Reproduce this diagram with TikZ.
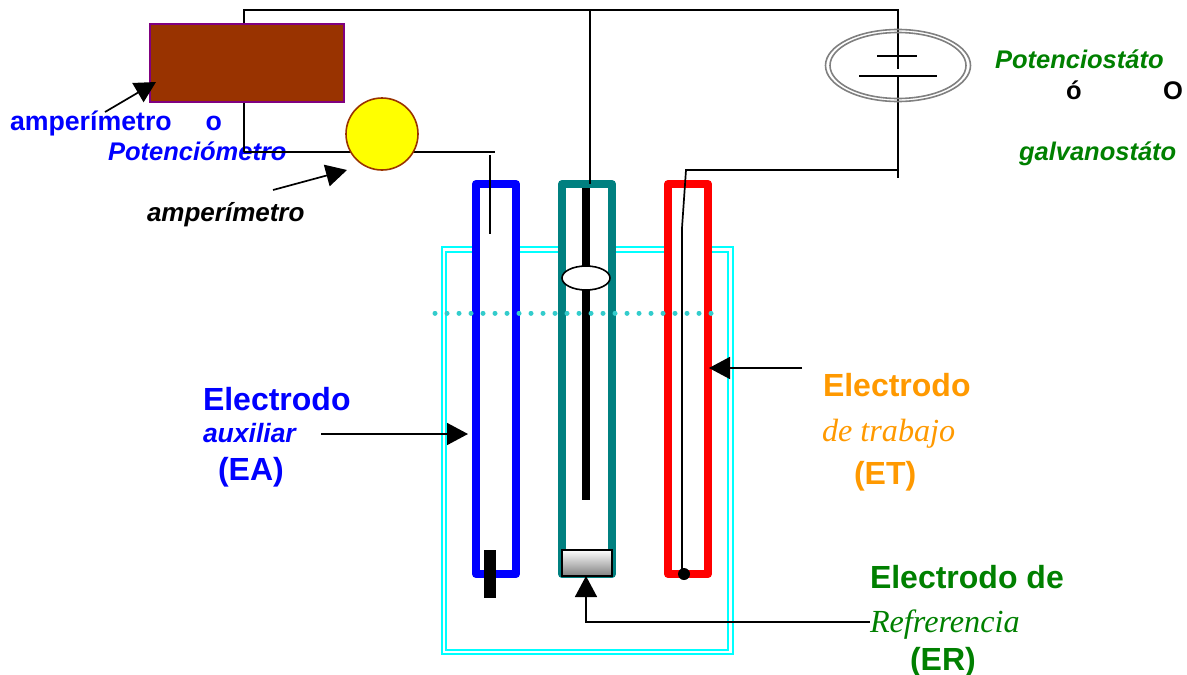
\documentclass[tikz,border=0pt]{standalone}
\usepackage{fontspec}
\setmainfont{Liberation Sans}
\newfontfamily\serifit{Liberation Serif}[ItalicFont=Liberation Serif Italic]
\usetikzlibrary{arrows.meta,calc,shapes.geometric}
\definecolor{cblue}{HTML}{0000FF}
\definecolor{cgreen}{HTML}{008000}
\definecolor{corange}{HTML}{FF9900}
\definecolor{cteal}{HTML}{008080}
\definecolor{cbrown}{HTML}{993300}
\definecolor{cpurple}{HTML}{800080}
\definecolor{cturq}{HTML}{33CCCC}
\definecolor{ccyan}{HTML}{00FFFF}
\definecolor{cyellow}{HTML}{FFFF00}
\definecolor{cred}{HTML}{FF0000}
\definecolor{cgray}{HTML}{808080}
\tikzset{
  txt/.style={anchor=base west,inner sep=0pt,outer sep=0pt},
  wire/.style={draw=black,line width=1.7pt,line cap=butt},
  pointer/.style={draw=black,line width=1.7pt,-{Triangle[length=21pt,width=22pt]},shorten >=0pt},
  electrode/.style={draw=#1,line width=8pt,line join=round,minimum width=40pt,minimum height=390pt,inner sep=0pt,outer sep=0pt,fill=white},
  beakerline/.style={draw=ccyan,line width=1.7pt},
  bsans/.style={font=\bfseries\fontsize{32}{36}\selectfont},
  bsmall/.style={font=\bfseries\fontsize{26.7}{30}\selectfont},
  bit/.style={font=\bfseries\itshape\fontsize{25.5}{30}\selectfont},
  sit/.style={font=\serifit\itshape\fontsize{32.2}{36}\selectfont},
}
\begin{document}
\begin{tikzpicture}[x=1pt,y=-1pt]
\useasboundingbox (0,0) rectangle (1187,675);
% beaker
\draw[beakerline] (442,247) rectangle (733,654);
\draw[beakerline] (446,252) rectangle (728,650);
% junctions
\coordinate (topL) at (244,10);
\coordinate (topM) at (590,10);
\coordinate (topR) at (898,10);
\coordinate (midR) at (898,170);
\coordinate (endR) at (898,178);
\coordinate (bendW) at (686,170);
\coordinate (kneeW) at (682,228);
\coordinate (ampL) at (244,152);
\coordinate (ampR) at (495,152);
\coordinate (auxTop) at (490,155);
\coordinate (auxEnd) at (490,234);
% electrodes
\node[electrode=cblue] (ea) at (496,379) {};
\node[electrode=cteal,minimum width=50pt] (er) at (587,379) {};
\node[electrode=cred] (et) at (688,379) {};
% inner parts
\node[fill=black,minimum width=8pt,minimum height=312pt,inner sep=0pt,outer sep=0pt] (rod) at (586,344) {};
\node[draw=black,fill=white,line width=1.6pt,ellipse,minimum width=48pt,minimum height=24pt,inner sep=0pt] (bulb) at (586,278) {};
\node[fill=black,minimum width=12pt,minimum height=48pt,inner sep=0pt,outer sep=0pt] (aux) at (490,574) {};
\node[draw=black,line width=1.6pt,top color=white,bottom color=cgray,minimum width=50pt,minimum height=26pt,inner sep=0pt,outer sep=0pt] (frit) at (587,563) {};
\node[circle,fill=black,minimum size=12pt,inner sep=0pt] (tip) at (684,574) {};
% dotted level
\coordinate (lvA) at (435,313);
\coordinate (lvB) at (712,313);
\draw[cturq,line width=5pt,line cap=round,dash pattern=on 0.01pt off 11.99pt] (lvA) -- (lvB);
% texts
\node[txt,text=cblue,bsmall] (t1) at (10,130) {amperímetro\hspace{34pt}o};
\node[txt,text=cblue,bit] (t2) at (108,160) {Potenciómetro};
\node[txt,text=black,font=\bfseries\itshape\fontsize{26}{30}\selectfont] (t3) at (147,221) {amperímetro};
\node[txt,text=cgreen,bit] (t4) at (995,68) {Potenciostáto};
\node[txt,text=black,font=\bfseries\fontsize{25.5}{30}\selectfont] (t5) at (1066,99) {ó};
\node[txt,text=black,font=\bfseries\fontsize{25.5}{30}\selectfont] (t6) at (1163,99) {O};
\node[txt,text=cgreen,bit] (t7) at (1019,160) {galvanostáto};
\node[txt,text=cblue,bsans] (t8) at (203,410) {Electrodo};
\node[txt,text=cblue,font=\bfseries\itshape\fontsize{26.5}{30}\selectfont] (t9) at (203,442) {auxiliar};
\node[txt,text=cblue,bsans] (t10) at (218,480) {(EA)};
\node[txt,text=corange,bsans] (t11) at (823,396) {Electrodo};
\node[txt,text=corange,sit] (t12) at (822,441) {de trabajo};
\node[txt,text=corange,bsans] (t13) at (854,484) {(ET)};
\node[txt,text=cgreen,bsans] (t14) at (870,588) {Electrodo de};
\node[txt,text=cgreen,sit] (t15) at (870,632) {Refrerencia};
\node[txt,text=cgreen,bsans] (t16) at (910,670) {(ER)};
% meter, ammeter, source
\draw[wire] (ampL) -- (topL) -- (topR) -- (endR);
\draw[wire] (ampL) -- (ampR);
\draw[wire] (topM) -- (590,184);
\draw[wire] (auxTop) -- (auxEnd);
\draw[wire] (midR) -- (bendW) -- (kneeW) -- (682,574);
\node[draw=cpurple,fill=cbrown,line width=1.6pt,minimum width=194pt,minimum height=78pt,inner sep=0pt,outer sep=0pt] (meter) at (247,63) {};
\node[circle,draw=cbrown,fill=cyellow,line width=1.6pt,minimum size=72pt,inner sep=0pt,outer sep=0pt] (amp) at (382,134) {};
% source: ellipse over the wire with plates
\node[ellipse,draw=cgray,line width=1.6pt,minimum width=145pt,minimum height=72pt,inner sep=0pt,outer sep=0pt] (src) at (898,65.5) {};
\node[ellipse,draw=cgray,line width=1.6pt,minimum width=136pt,minimum height=66pt,inner sep=0pt,outer sep=0pt] (srcin) at (898,65.5) {};
\fill[white] (896,68.5) rectangle (900,75);
\coordinate (plAl) at (877,56);
\coordinate (plAr) at (917,56);
\coordinate (plBl) at (859,76);
\coordinate (plBr) at (937,76);
\draw[wire] (plAl) -- (plAr);
\draw[wire] (plBl) -- (plBr);
% pointers
\coordinate (p1) at (105,112);
\coordinate (p1e) at (156,82);
\coordinate (p2) at (273,190);
\coordinate (p2e) at (347,170);
\coordinate (p3) at (321,434);
\coordinate (p3e) at (468,434);
\coordinate (p4) at (802,368);
\coordinate (p4e) at (709,368);
\coordinate (p5) at (870,622);
\coordinate (p5k) at (586,622);
\coordinate (p5e) at (586,576);
\draw[pointer] (p1) -- (p1e);
\draw[pointer] (p2) -- (p2e);
\draw[pointer] (p3) -- (p3e);
\draw[pointer] (p4) -- (p4e);
\draw[pointer] (p5) -- (p5k) -- (p5e);
\end{tikzpicture}
\end{document}
